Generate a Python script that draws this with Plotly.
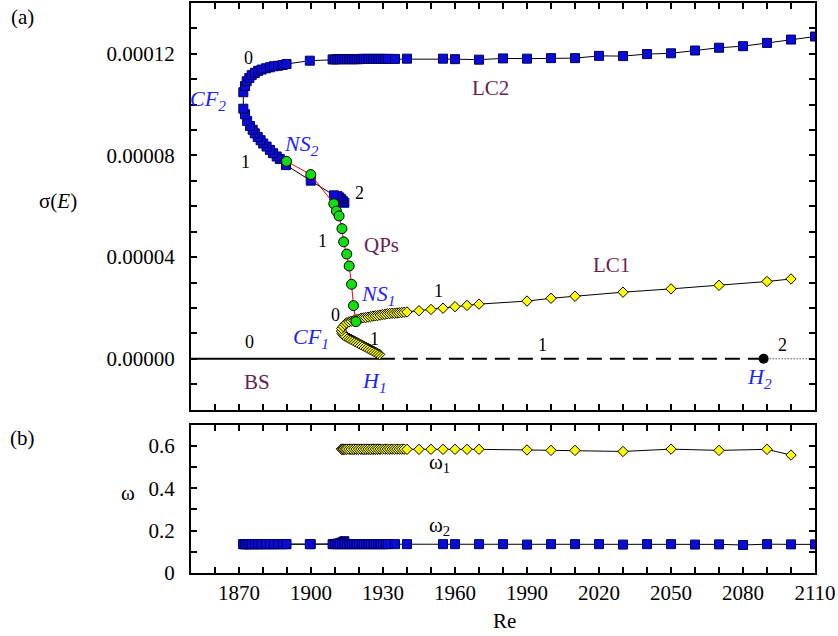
import plotly.graph_objects as go

# ---------------------------------------------------------------- data
SIG = 1e-5  # sigma(E) values below are listed in units of 1e-5

# LC2 branch: from the end of the unstable part, around CF2, then the upper branch
lc2_re = [1913.9, 1913.3, 1912.6, 1911.8, 1911.0, 1909.6, 1899.9, 1889.6, 1887.0, 1885.7,
          1884.2, 1882.9, 1881.5, 1880.1, 1879.0, 1877.8, 1876.6, 1875.7, 1874.6, 1873.4,
          1872.5, 1871.8, 1871.8, 1872.5, 1873.2, 1874.3, 1875.3, 1876.6, 1878.0, 1879.4,
          1881.2, 1882.9, 1884.5, 1886.3, 1888.2, 1889.8, 1899.5,
          1909, 1910, 1911, 1912, 1913, 1914, 1915, 1916, 1917, 1918, 1919, 1920,
          1921, 1922, 1923, 1924, 1925, 1926, 1927, 1928, 1929, 1930, 1931, 1932,
          1935, 1940, 1955, 1960, 1970, 1980, 1990, 2000, 2010, 2020, 2030, 2040,
          2050, 2060, 2070, 2080, 2090, 2100, 2110]
lc2_sigma = [6.14, 6.20, 6.28, 6.35, 6.40, 6.43, 7.01, 7.62, 7.86, 7.96,
             8.09, 8.22, 8.35, 8.47, 8.60, 8.73, 8.87, 9.01, 9.16, 9.36,
             9.62, 9.84, 10.49, 10.73, 10.92, 11.05, 11.16, 11.25, 11.33, 11.38,
             11.43, 11.47, 11.51, 11.53, 11.56, 11.60, 11.73,
             11.78, 11.78, 11.79, 11.79, 11.79, 11.79, 11.79, 11.79, 11.79, 11.79, 11.79, 11.79,
             11.80, 11.80, 11.80, 11.80, 11.80, 11.80, 11.80, 11.80, 11.80, 11.80, 11.80, 11.80,
             11.80, 11.81, 11.81, 11.79, 11.77, 11.82, 11.81, 11.83, 11.83, 11.92, 11.91, 11.99,
             12.02, 12.13, 12.24, 12.30, 12.43, 12.56, 12.68]
lc2_omega = [0.150, 0.146, 0.143, 0.140, 0.138, 0.137, 0.136, 0.136, 0.136, 0.136,
             0.136, 0.136, 0.136, 0.136, 0.136, 0.136, 0.136, 0.136, 0.136, 0.136,
             0.136, 0.136, 0.136, 0.136, 0.136, 0.136, 0.136, 0.136, 0.136, 0.136,
             0.136, 0.136, 0.136, 0.136, 0.136, 0.136, 0.136,
             0.136, 0.136, 0.136, 0.136, 0.136, 0.136, 0.136, 0.136, 0.136, 0.136, 0.136, 0.136,
             0.136, 0.136, 0.136, 0.136, 0.136, 0.136, 0.136, 0.136, 0.136, 0.136, 0.136, 0.136,
             0.136, 0.136, 0.136, 0.136, 0.136, 0.136, 0.134, 0.136, 0.136, 0.136, 0.134, 0.136,
             0.136, 0.134, 0.135, 0.132, 0.136, 0.135, 0.135]

# LC1 branch: from H1 up to CF1, then the stable upper branch
lc1_re = [1928.6, 1927.8, 1927.0, 1926.2, 1925.4, 1924.6, 1923.8, 1923.0, 1922.2, 1921.4,
          1920.6, 1919.8, 1919.0, 1918.2, 1917.4, 1916.6, 1915.8, 1915.0, 1914.2, 1913.5,
          1913.0, 1912.7, 1912.8, 1913.4, 1914.1,
          1914.8, 1915.8, 1916.8, 1917.8, 1918.8, 1919.8, 1920.8, 1921.8, 1922.8, 1923.8,
          1924.8, 1925.8, 1926.8, 1927.8, 1928.8, 1929.8, 1930.8, 1931.8, 1932.8, 1933.8,
          1934.8, 1935.8, 1936.8, 1937.8, 1938.8,
          1940, 1945, 1950, 1955, 1960, 1965, 1970, 1990, 2000, 2010, 2030, 2050, 2070,
          2090, 2100]
lc1_sigma = [0.17, 0.21, 0.25, 0.29, 0.33, 0.37, 0.41, 0.45, 0.49, 0.53,
             0.57, 0.61, 0.65, 0.69, 0.73, 0.77, 0.81, 0.85, 0.89, 0.93,
             0.99, 1.09, 1.19, 1.27, 1.35,
             1.41, 1.45, 1.48, 1.51, 1.54, 1.56, 1.59, 1.61, 1.62, 1.64,
             1.66, 1.68, 1.69, 1.70, 1.72, 1.74, 1.75, 1.77, 1.78, 1.79,
             1.79, 1.80, 1.81, 1.82, 1.83,
             1.84, 1.89, 1.94, 1.99, 2.05, 2.10, 2.15, 2.27, 2.38, 2.46, 2.62, 2.75, 2.89,
             3.04, 3.14]
lc1_omega = [0.584, 0.584, 0.584, 0.584, 0.584, 0.584, 0.584, 0.584, 0.584, 0.584,
             0.584, 0.584, 0.584, 0.584, 0.584, 0.584, 0.584, 0.584, 0.584, 0.584,
             0.584, 0.584, 0.584, 0.584, 0.584,
             0.584, 0.584, 0.584, 0.584, 0.584, 0.584, 0.584, 0.584, 0.584, 0.584,
             0.584, 0.584, 0.584, 0.584, 0.584, 0.584, 0.584, 0.584, 0.584, 0.584,
             0.584, 0.584, 0.584, 0.584, 0.584,
             0.583, 0.583, 0.583, 0.583, 0.583, 0.583, 0.583, 0.580, 0.578, 0.578, 0.573, 0.584, 0.578,
             0.583, 0.556]

# Quasi-periodic branch between NS2 and NS1
qp_re = [1889.8, 1899.9, 1909.5, 1910.6, 1911.7, 1912.9, 1913.6, 1914.9, 1915.9, 1916.9, 1917.7, 1918.7]
qp_sigma = [7.77, 7.25, 6.10, 5.81, 5.62, 5.12, 4.60, 4.12, 3.65, 2.93, 2.09, 1.46]

# Base state (sigma = 0): stable up to H1, one unstable pair up to H2, two beyond
bs_stable_re = [1850, 1928.7]
bs_unstable1_re = [1928.7, 2088.6]
bs_unstable2_re = [2088.6, 2110]
h2_re = [2088.6]

# ---------------------------------------------------------------- style
FONT = "'Liberation Serif', 'Times New Roman', Times, serif"
BLUE_TXT = "#1f1fff"
PURPLE = "#6b1e50"
SQ_FILL = "#0b0bd8"
SQ_EDGE = "#000060"

def s(vals):
    return [v * SIG for v in vals]

fig = go.Figure()

# base state lines in panel (a)
fig.add_trace(go.Scatter(x=bs_stable_re, y=[0, 0], mode="lines",
                         line=dict(color="black", width=2), xaxis="x", yaxis="y"))
fig.add_trace(go.Scatter(x=bs_unstable1_re, y=[0, 0], mode="lines",
                         line=dict(color="black", width=2, dash="15px,8px"), xaxis="x", yaxis="y"))
fig.add_trace(go.Scatter(x=bs_unstable2_re, y=[0, 0], mode="lines",
                         line=dict(color="black", width=1, dash="1px,2px"), xaxis="x", yaxis="y"))
fig.add_trace(go.Scatter(x=h2_re, y=[0], mode="markers",
                         marker=dict(color="black", size=10), xaxis="x", yaxis="y"))

# LC1 (yellow diamonds)
fig.add_trace(go.Scatter(x=lc1_re, y=s(lc1_sigma), mode="lines+markers",
                         line=dict(color="black", width=1),
                         marker=dict(symbol="diamond", size=8, color="#ffff00",
                                     line=dict(color="black", width=1)),
                         xaxis="x", yaxis="y"))
# LC2 (blue squares)
fig.add_trace(go.Scatter(x=lc2_re, y=s(lc2_sigma), mode="lines+markers",
                         line=dict(color="black", width=1),
                         marker=dict(symbol="square", size=9, color=SQ_FILL,
                                     line=dict(color=SQ_EDGE, width=1)),
                         xaxis="x", yaxis="y"))
# quasi-periodic solutions (green circles, red line)
fig.add_trace(go.Scatter(x=qp_re, y=s(qp_sigma), mode="lines+markers",
                         line=dict(color="#ff0000", width=1),
                         marker=dict(symbol="circle", size=10, color="#11dd11",
                                     line=dict(color="black", width=1)),
                         xaxis="x", yaxis="y"))

# panel (b): frequencies
fig.add_trace(go.Scatter(x=lc1_re, y=lc1_omega, mode="lines+markers",
                         line=dict(color="black", width=1),
                         marker=dict(symbol="diamond", size=8, color="#ffff00",
                                     line=dict(color="black", width=1)),
                         xaxis="x2", yaxis="y2"))
fig.add_trace(go.Scatter(x=lc2_re, y=lc2_omega, mode="lines+markers",
                         line=dict(color="black", width=1),
                         marker=dict(symbol="square", size=9, color=SQ_FILL,
                                     line=dict(color=SQ_EDGE, width=1)),
                         xaxis="x2", yaxis="y2"))

# ---------------------------------------------------------------- axes
tickfont = dict(family=FONT, size=21, color="black")
common_x = dict(range=[1850, 2110], tick0=1870, dtick=30, ticks="inside", ticklen=6,
                tickwidth=1.5, tickcolor="black", showline=True, linewidth=2,
                linecolor="black", mirror="ticks", showgrid=False, zeroline=False,
                minor=dict(tick0=1870, dtick=10, ticks="inside", ticklen=6,
                           tickwidth=1.5, tickcolor="black", showgrid=False),
                tickfont=tickfont)
common_y = dict(ticks="inside", ticklen=6, tickwidth=1.5, tickcolor="black",
                showline=True, linewidth=2, linecolor="black", mirror="ticks",
                showgrid=False, zeroline=False, tickfont=tickfont, ticklabelstandoff=10)

fig.update_layout(
    width=838, height=636,
    margin=dict(l=191, r=23, t=1, b=63),
    paper_bgcolor="white", plot_bgcolor="white",
    showlegend=False,
    font=dict(family=FONT, size=21, color="black"),
    xaxis=dict(domain=[0, 1], anchor="y", showticklabels=False, **common_x),
    yaxis=dict(domain=[0.2867, 1], anchor="x", range=[-2e-5, 14e-5],
               tick0=0, dtick=4e-5, tickformat=".5f",
               minor=dict(tick0=0, dtick=1e-5, ticks="inside", ticklen=6,
                          tickwidth=1.5, tickcolor="black", showgrid=False),
               **common_y),
    xaxis2=dict(domain=[0, 1], anchor="y2", showticklabels=True,
                ticklabelstandoff=0, **common_x),
    yaxis2=dict(domain=[0, 0.2605], anchor="x2", range=[0, 0.7],
                tick0=0, dtick=0.2,
                minor=dict(tick0=0, dtick=0.1, ticks="inside", ticklen=6,
                           tickwidth=1.5, tickcolor="black", showgrid=False),
                **common_y),
)

# ---------------------------------------------------------------- labels
def label(x, y, text, color="black", size=21, xref="x", yref="y"):
    fig.add_annotation(x=x, y=y, xref=xref, yref=yref, text=text, showarrow=False,
                       font=dict(family=FONT, size=size, color=color),
                       xanchor="center", yanchor="middle")

# number of unstable eigenvalues along each branch
numbers = [("0", 1874.1, 11.83), ("1", 1872.8, 7.76), ("2", 1920.3, 6.53),
           ("1", 1904.8, 4.63), ("0", 1910.3, 1.74), ("1", 1926.6, 0.76),
           ("0", 1874.3, 0.65), ("1", 1953.2, 2.65), ("1", 1996.4, 0.54),
           ("2", 2096.5, 0.54)]
for t, x, y in numbers:
    label(x, y * SIG, t, size=18)

# bifurcation points
label(1857.2, 10.20 * SIG, "<i>CF<sub>2</sub></i>", color=BLUE_TXT, size=22)
label(1896.1, 8.40 * SIG, "<i>NS<sub>2</sub></i>", color=BLUE_TXT, size=22)
label(1927.9, 2.52 * SIG, "<i>NS<sub>1</sub></i>", color=BLUE_TXT, size=22)
label(1900.2, 0.80 * SIG, "<i>CF<sub>1</sub></i>", color=BLUE_TXT, size=22)
label(1926.6, -0.93 * SIG, "<i>H<sub>1</sub></i>", color=BLUE_TXT, size=22)
label(2086.8, -0.74 * SIG, "<i>H<sub>2</sub></i>", color=BLUE_TXT, size=22)

# solution branches
label(1974.8, 10.66 * SIG, "LC2", color=PURPLE)
label(1929.4, 4.47 * SIG, "QPs", color=PURPLE)
label(2025.1, 3.69 * SIG, "LC1", color=PURPLE)
label(1877.5, -0.91 * SIG, "BS", color=PURPLE)

# frequencies
label(1953.6, 0.517, "ω<sub>1</sub>", xref="x2", yref="y2", size=21)
label(1953.6, 0.221, "ω<sub>2</sub>", xref="x2", yref="y2", size=21)

# panel tags and axis titles
label(-0.2708, 0.9755, "(a)", xref="paper", yref="paper")
label(-0.2708, 0.236, "(b)", xref="paper", yref="paper")
label(-0.213, 0.652, "σ(<i>E</i>)", xref="paper", yref="paper")
label(-0.101, 0.140, "ω", xref="paper", yref="paper")
label(0.503, -0.0839, "Re", xref="paper", yref="paper")

fig.write_html("out.html")
